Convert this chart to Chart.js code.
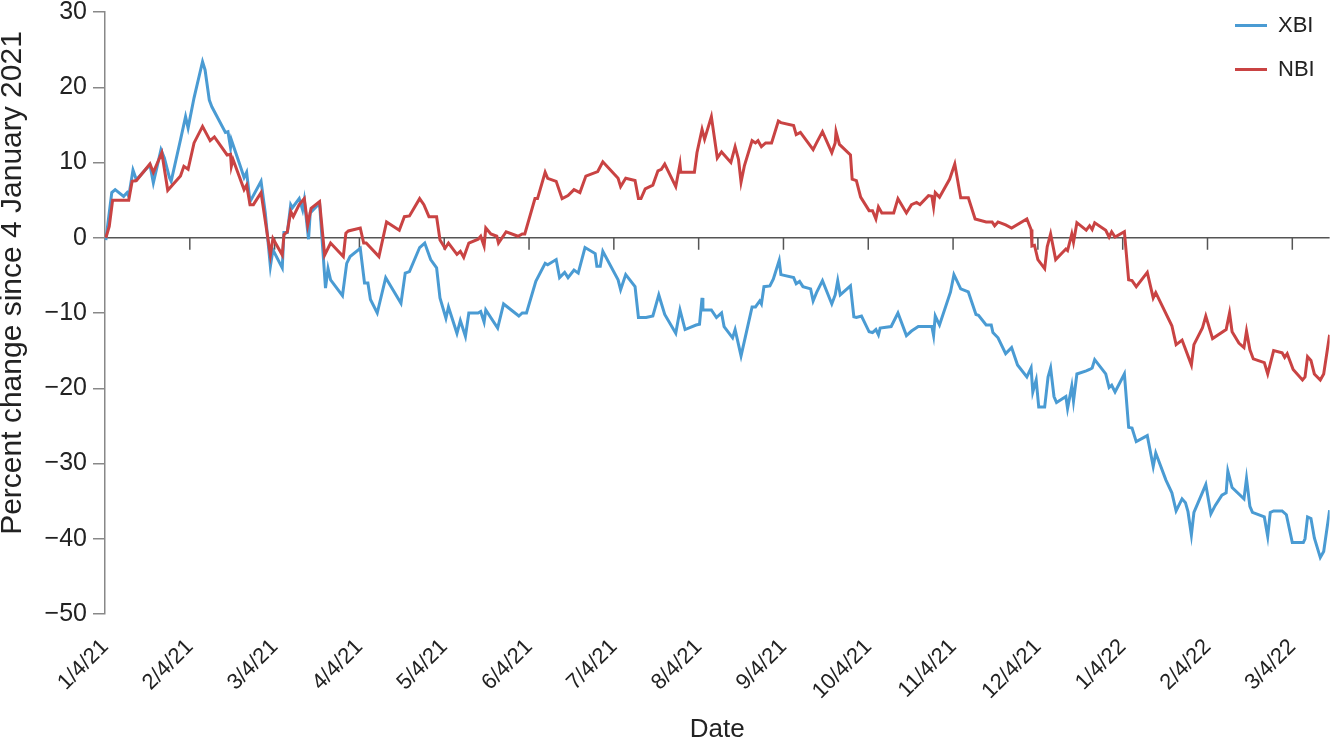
<!DOCTYPE html>
<html>
<head>
<meta charset="utf-8">
<title>XBI vs NBI</title>
<script src="https://cdn.jsdelivr.net/npm/chart.js@4"></script>
<style>
  body { margin: 0; background: #fff; }
  #wrap { position: relative; width: 1331px; height: 743px; }
  .legend-item {
    position: absolute; left: 1235px; height: 26px; line-height: 26px;
    font-family: "Liberation Sans", Arial, sans-serif; font-size: 22px; color: #222;
    white-space: nowrap;
  }
  .legend-item span {
    display: inline-block; width: 32px; height: 3px; vertical-align: middle;
    margin-right: 11px; position: relative; top: -1px;
  }
</style>
</head>
<body>
<div id="wrap">
  <canvas id="chart" width="1331" height="743"></canvas>
  <div class="legend-item" style="top:12px"><span style="background:#4a9bd3"></span>XBI</div>
  <div class="legend-item" style="top:56px"><span style="background:#c94343"></span>NBI</div>
</div>
<script>
// Tick labels on the x axis (one per month, evenly spaced)
const monthLabels = ['1/4/21', '2/4/21', '3/4/21', '4/4/21', '5/4/21', '6/4/21', '7/4/21',
  '8/4/21', '9/4/21', '10/4/21', '11/4/21', '12/4/21', '1/4/22', '2/4/22', '3/4/22'];

// XBI: position in months since 1/4/21, percent change
const xbiMonths = [0.01,0.08,0.12,0.22,0.26,0.28,0.33,0.37,0.53,0.57,
  0.66,0.70,0.76,0.78,0.89,0.95,0.98,1.05,1.15,1.18,
  1.23,1.26,1.42,1.45,1.48,1.49,1.59,1.64,1.67,1.71,
  1.84,1.89,1.95,1.98,2.09,2.11,2.15,2.19,2.21,2.29,
  2.33,2.35,2.40,2.42,2.53,2.60,2.63,2.66,2.80,2.85,
  2.89,3.01,3.06,3.10,3.13,3.21,3.31,3.40,3.49,3.54,
  3.59,3.71,3.77,3.84,3.91,3.95,4.02,4.05,4.15,4.19,
  4.25,4.29,4.40,4.43,4.47,4.49,4.63,4.70,4.88,4.92,
  4.97,5.08,5.19,5.22,5.32,5.36,5.42,5.46,5.53,5.58,
  5.66,5.78,5.80,5.84,5.87,6.05,6.08,6.14,6.25,6.29,
  6.38,6.46,6.53,6.60,6.73,6.78,6.84,6.97,7.01,7.04,
  7.05,7.15,7.21,7.27,7.30,7.40,7.43,7.50,7.55,7.63,
  7.67,7.72,7.74,7.77,7.84,7.88,7.95,7.97,8.12,8.15,
  8.19,8.23,8.32,8.35,8.39,8.46,8.57,8.61,8.64,8.67,
  8.79,8.83,8.86,8.92,9.01,9.05,9.09,9.12,9.14,9.27,
  9.35,9.45,9.51,9.59,9.75,9.77,9.79,9.84,9.97,10.01,
  10.04,10.09,10.18,10.27,10.30,10.39,10.45,10.47,10.53,10.62,
  10.69,10.76,10.87,10.92,10.94,10.98,11.01,11.08,11.12,11.15,
  11.19,11.22,11.33,11.35,11.40,11.42,11.46,11.57,11.61,11.64,
  11.67,11.80,11.84,11.87,11.91,12.02,12.07,12.11,12.16,12.29,
  12.36,12.39,12.51,12.58,12.63,12.70,12.74,12.77,12.81,12.84,
  12.98,13.04,13.09,13.17,13.22,13.24,13.29,13.43,13.46,13.50,
  13.53,13.67,13.71,13.74,13.78,13.88,13.93,14.00,14.13,14.15,
  14.18,14.22,14.26,14.33,14.37,14.44];
const xbiValues = [-0.3,6,6.4,5.5,6,5.5,9.0,7.7,9.7,7.3,
  11.7,10.6,8.0,7.5,13.0,16.1,14.6,18.6,23.4,22.3,
  18.3,17.4,14,14.1,12,13,9.7,8,8.7,4.8,
  7.5,3.3,-3.8,-1.6,-4,0.7,0.7,4.4,4,5.2,
  3.7,5,-0.2,3.3,4.6,-6.7,-4.1,-5.6,-7.7,-3.4,
  -2.5,-1.4,-6,-6,-8.2,-10,-5.3,-7,-8.7,-4.7,
  -4.5,-1.3,-0.7,-2.9,-4,-8,-10.7,-9.2,-12.7,-11,
  -13.1,-10,-10,-9.8,-11.2,-9.6,-12,-8.8,-10.4,-10,
  -10,-5.8,-3.4,-3.6,-2.9,-5.3,-4.6,-5.3,-4.3,-4.7,
  -1.3,-2.1,-3.8,-3.8,-1.8,-5.6,-6.9,-4.9,-6.5,-10.6,
  -10.6,-10.4,-7.6,-10.2,-12.7,-9.6,-12.2,-11.6,-11.5,-8,
  -9.6,-9.6,-10.6,-10,-11.8,-13.3,-12.2,-15.7,-13.2,-9.2,
  -9.2,-8.4,-8.8,-6.5,-6.4,-5.5,-3,-4.9,-5.3,-6.1,
  -5.8,-6.5,-6.8,-8.4,-7.3,-5.7,-8.8,-7.6,-5.7,-7.6,
  -6.4,-10.5,-10.6,-10.4,-12.5,-12.6,-12.2,-12.9,-12,-11.8,
  -10,-13,-12.4,-11.8,-11.8,-13,-10.4,-11.6,-7.2,-4.9,
  -5.6,-6.8,-7.2,-10.2,-10.3,-11.6,-11.6,-12.6,-13.3,-15.4,
  -14.6,-16.9,-18.5,-17.3,-20.5,-18.9,-22.5,-22.5,-18.5,-17.3,
  -21.1,-21.9,-21.1,-22.7,-19.7,-21.7,-18.1,-17.7,-17.5,-17.3,
  -16.2,-18.1,-19.9,-19.6,-20.5,-18.1,-25.2,-25.3,-27.1,-26.3,
  -30.4,-28.6,-32.2,-33.9,-36.3,-34.7,-35.2,-36.4,-39.5,-36.5,
  -32.8,-36.7,-35.6,-34.2,-33.9,-31,-33.2,-34.7,-32,-35.7,
  -36.5,-37.1,-39.7,-36.5,-36.3,-36.3,-36.8,-40.5,-40.5,-40,
  -37.1,-37.3,-39.9,-42.5,-41.7,-36.2];

// NBI: position in months since 1/4/21, percent change
const nbiMonths = [0.01,0.05,0.09,0.28,0.32,0.37,0.53,0.57,0.67,0.74,
  0.89,0.93,0.98,1.05,1.15,1.24,1.29,1.44,1.48,1.49,
  1.51,1.64,1.67,1.71,1.75,1.84,1.95,1.98,2.09,2.11,
  2.15,2.19,2.22,2.29,2.35,2.39,2.43,2.53,2.59,2.66,
  2.81,2.84,2.87,3.01,3.05,3.08,3.23,3.32,3.47,3.53,
  3.59,3.71,3.76,3.82,3.91,3.95,4.01,4.05,4.15,4.19,
  4.23,4.29,4.40,4.43,4.47,4.49,4.55,4.62,4.64,4.73,
  4.87,4.92,4.95,5.07,5.10,5.19,5.22,5.32,5.39,5.46,
  5.53,5.60,5.67,5.81,5.87,6.05,6.08,6.14,6.25,6.29,
  6.32,6.37,6.46,6.52,6.56,6.60,6.73,6.78,6.79,6.95,
  6.98,7.04,7.07,7.15,7.22,7.27,7.38,7.43,7.47,7.50,
  7.54,7.63,7.67,7.70,7.74,7.79,7.86,7.94,7.97,8.12,
  8.15,8.20,8.35,8.39,8.46,8.57,8.61,8.62,8.66,8.79,
  8.81,8.86,8.91,9.01,9.05,9.09,9.12,9.16,9.30,9.35,
  9.45,9.51,9.57,9.61,9.71,9.75,9.77,9.79,9.84,9.96,
  10.02,10.09,10.18,10.26,10.39,10.46,10.49,10.53,10.62,10.69,
  10.87,10.92,10.93,10.96,11.00,11.08,11.11,11.15,11.21,11.33,
  11.35,11.40,11.42,11.46,11.57,11.61,11.64,11.67,11.80,11.84,
  11.87,11.91,12.02,12.07,12.11,12.16,12.29,12.36,12.39,12.58,
  12.63,12.70,12.78,12.81,12.84,12.94,12.98,13.06,13.22,13.26,
  13.29,13.37,13.43,13.46,13.50,13.54,13.67,13.71,13.78,13.88,
  13.91,13.94,14.01,14.12,14.15,14.18,14.22,14.26,14.33,14.37,
  14.44];
const nbiValues = [0,1.5,5,5,7.5,7.6,9.8,8.7,11.3,6.3,
  8.2,9.5,9.1,12.6,14.8,12.9,13.4,11,11.1,9.5,
  10.4,6.4,7,4.4,4.4,6,-2.3,-0.1,-2.3,0.4,
  0.8,3.5,2.8,4.4,5.2,1.7,3.9,4.8,-2.3,-0.7,
  -2.5,0.6,0.9,1.3,-0.7,-0.7,-2.5,2.1,1,2.8,
  2.9,5.2,4.4,2.8,2.8,-0.3,-1.4,-0.7,-2.2,-1.8,
  -2.6,-0.7,-0.2,0.2,-1.1,1.3,0.5,0.2,-0.7,0.8,
  0.2,0.5,0.5,5.2,5.2,8.7,7.9,7.5,5.2,5.6,
  6.4,6,8.2,8.8,10.1,7.9,6.8,7.9,7.6,5.2,
  5.2,6.5,7,8.9,9.1,9.8,6.8,9.8,8.7,8.7,
  11.3,14.4,13.1,16.1,10.6,11.4,10,12.1,10.4,7.4,
  9.6,12.9,12.6,12.9,12.1,12.6,12.6,15.5,15.3,14.9,
  13.7,14,11.7,12.6,14.1,11.3,12.6,14.1,12.4,11,
  7.8,7.6,5.4,3.6,3.6,2.5,4.1,3.3,3.3,5.2,
  3.3,4.4,4.7,4.4,5.6,5.5,4.1,6,5.4,7.8,
  9.8,5.3,5.3,2.5,2.1,2.1,1.6,2.1,1.7,1.3,
  2.5,1.1,-1.1,-1,-2.9,-4.1,-1.2,0.5,-2.9,-1.5,
  -1.7,0.5,-0.6,2,1,1.6,1.1,2,1,0.1,
  0.8,0.1,0.8,-5.6,-5.7,-6.5,-4.6,-8,-7.3,-11.7,
  -14.2,-13.6,-16,-16.9,-14.2,-12,-10.4,-13.4,-12.2,-10,
  -12.5,-14,-14.6,-12.4,-14.9,-16.1,-16.6,-18.1,-15,-15.3,
  -15.9,-15.4,-17.5,-18.9,-18.5,-15.8,-16.3,-18.1,-18.9,-18.1,
  -12.9];

const FONT = '"Liberation Sans", Arial, sans-serif';
const BLUE = '#4a9bd3';
const RED = '#c94343';

Chart.defaults.font.family = FONT;
Chart.defaults.color = '#222';

function toPoints(xs, ys) {
  return xs.map((m, i) => ({ x: m, y: ys[i] }));
}

// small downward ticks on the zero line + y title (it sits above the axis centre)
const axisExtras = {
  id: 'axisExtras',
  beforeDatasetsDraw(chart) {
    const { ctx, scales: { x, y } } = chart;
    const y0 = y.getPixelForValue(0);
    ctx.save();
    ctx.strokeStyle = '#555';
    ctx.lineWidth = 1.5;
    x.ticks.forEach(t => {
      if (t.value === 0) return;
      const px = x.getPixelForValue(t.value);
      ctx.beginPath();
      ctx.moveTo(px, y0);
      ctx.lineTo(px, y0 + 12);
      ctx.stroke();
    });
    ctx.restore();
  },
  afterDraw(chart) {
    const ctx = chart.ctx;
    ctx.save();
    ctx.translate(13, 283);
    ctx.rotate(-Math.PI / 2);
    ctx.font = '30px ' + FONT;
    ctx.fillStyle = '#222';
    ctx.textAlign = 'center';
    ctx.textBaseline = 'middle';
    ctx.fillText('Percent change since 4 January 2021', 0, 0);
    ctx.restore();
  }
};

new Chart(document.getElementById('chart'), {
  type: 'line',
  data: {
    datasets: [
      { label: 'NBI', data: toPoints(nbiMonths, nbiValues), borderColor: RED, borderWidth: 3,
        pointRadius: 0, tension: 0, fill: false },
      { label: 'XBI', data: toPoints(xbiMonths, xbiValues), borderColor: BLUE, borderWidth: 3,
        pointRadius: 0, tension: 0, fill: false }
    ]
  },
  options: {
    responsive: false,
    animation: false,
    layout: { padding: { top: 12, right: 1, left: 0, bottom: 0 } },
    plugins: { legend: { display: false }, tooltip: { enabled: false } },
    scales: {
      x: {
        type: 'linear',
        min: 0,
        max: 14.44,
        afterBuildTicks(s) { s.ticks = monthLabels.map((_, i) => ({ value: i })); },
        ticks: {
          autoSkip: false, minRotation: 45, maxRotation: 45, padding: 20,
          font: { size: 22 }, color: '#222',
          callback: v => monthLabels[Math.round(v)]
        },
        grid: { display: false, drawTicks: false },
        border: { display: false },
        title: { display: true, text: 'Date', color: '#222', font: { size: 26, lineHeight: 1 },
          padding: { top: 0, bottom: 0 } },
        afterFit(s) { s.height = 129; }
      },
      y: {
        min: -50,
        max: 30,
        ticks: {
          stepSize: 10, padding: 6, color: '#222', font: { size: 25, lineHeight: 1 },
          callback: v => String(v).replace('-', '\u2212')
        },
        grid: {
          drawOnChartArea: true,
          color: c => (c.tick && c.tick.value === 0) ? '#555' : 'rgba(0,0,0,0)',
          lineWidth: 1.5,
          tickColor: '#888',
          tickWidth: 1.5,
          tickLength: 12
        },
        border: { display: true, color: '#888', width: 1.5 },
        afterFit(s) { s.width = 105; s.paddingTop = 0; s.paddingBottom = 0; }
      }
    }
  },
  plugins: [axisExtras]
});
</script>
</body>
</html>
